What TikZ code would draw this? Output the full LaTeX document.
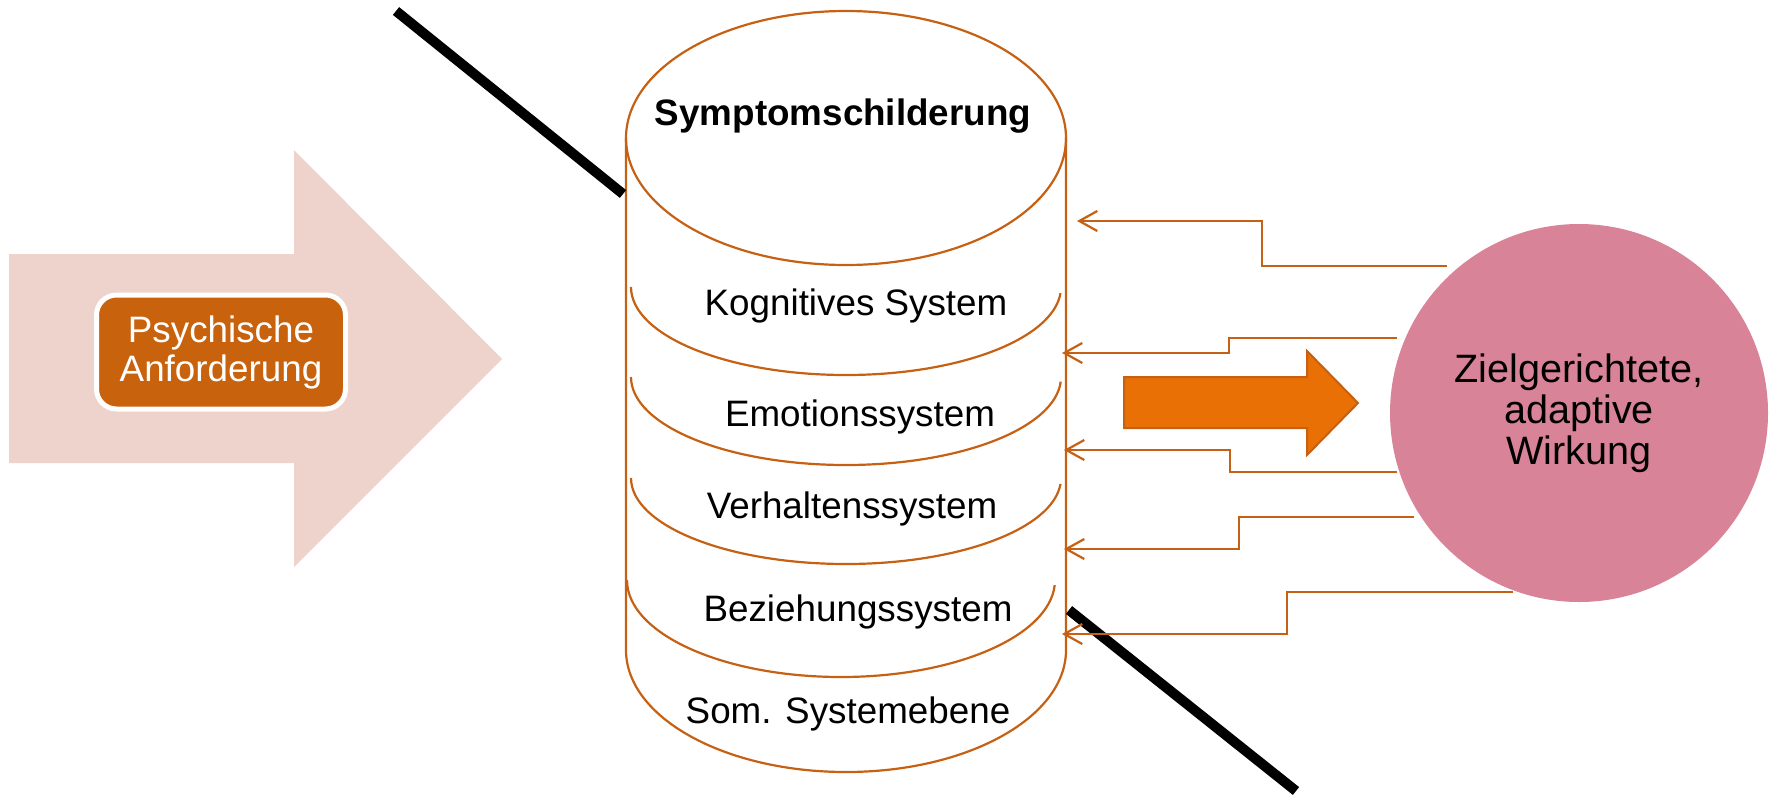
\documentclass[tikz,border=0pt]{standalone}
\usepackage{fontspec}
\setmainfont{Liberation Sans}
\usetikzlibrary{arrows.meta}
\definecolor{rimc}{RGB}{198,96,18}
\definecolor{pale}{RGB}{237,211,204}
\definecolor{boxc}{RGB}{200,98,12}
\definecolor{wirkc}{RGB}{216,131,152}
\definecolor{pushc}{RGB}{233,112,5}
\begin{document}
\begin{tikzpicture}[x=0.5pt,y=-0.5pt,
  rim/.style={draw=rimc, line width=1.1pt},
  layer/.style={anchor=base, font=\fontsize{18.4}{20}\selectfont},
  fb/.style={draw=rimc, line width=1.1pt, -{Straight Barb[length=9pt,width=10pt]}}]
\useasboundingbox (0,0) rectangle (1775,798);
% big arrow left
\fill[pale] (9,254)--(294,254)--(294,150)--(502,359)--(294,567)--(294,463)--(9,463)--cycle;
\node[draw=white, line width=2.5pt, fill=boxc, rounded corners=10pt, minimum width=124.5pt,
  minimum height=57pt, inner sep=0, text=white, align=center,
  font=\fontsize{18.4}{19.5}\selectfont] (anf) at (221,352) {Psychische\\Anforderung};
% cylinder
\draw[rim] (846,138) ellipse[x radius=220, y radius=127];
\draw[rim] (626,138) -- (626,650) arc[start angle=180, end angle=0, x radius=220, y radius=122] -- (1066,138);
\draw[rim] (631,287) arc[start angle=180, end angle=4, x radius=215, y radius=88];
\draw[rim] (631,377) arc[start angle=180, end angle=3, x radius=215, y radius=88];
\draw[rim] (631,478) arc[start angle=180, end angle=4, x radius=215, y radius=86];
\draw[rim] (627,580) arc[start angle=180, end angle=3, x radius=214, y radius=97];
\node[layer, font=\fontsize{18.4}{20}\selectfont\bfseries] (sym) at (843,125) {Symptomschilderung};
\node[layer] (kog) at (856,315) {Kognitives System};
\node[layer] (emo) at (860,426) {Emotionssystem};
\node[layer] (verh) at (852,518) {Verhaltenssystem};
\node[layer] (bez) at (858,621) {Beziehungssystem};
\node[layer] (som) at (848,723) {Som. Systemebene};
% black bars
\draw[line width=5pt] (396,11) -- (623,194);
\draw[line width=5pt] (1069,610) -- (1296,791);
% orange arrow
\draw[draw=rimc, line width=1pt, fill=pushc] (1124,377)--(1307,377)--(1307,351)--(1358,403)--(1307,455)--(1307,428)--(1124,428)--cycle;
% goal
\node[circle, fill=wirkc, minimum size=189pt, inner sep=0, align=center,
  font=\fontsize{19.8}{20.5}\selectfont] (wirk) at (1579,413) {Zielgerichtete,\\adaptive\\Wirkung};
% feedback
\coordinate (s1) at (1447,266); \coordinate (t1) at (1077,221);
\coordinate (s2) at (1397,338); \coordinate (t2) at (1062,353);
\coordinate (s3) at (1397,472); \coordinate (t3) at (1064,450);
\coordinate (s4) at (1414,517); \coordinate (t4) at (1064,549);
\coordinate (s5) at (1513,592); \coordinate (t5) at (1062,634);
\draw[fb] (s1) -- ++(-185,0) |- (t1);
\draw[fb] (s2) -- ++(-168,0) |- (t2);
\draw[fb] (s3) -- ++(-167,0) |- (t3);
\draw[fb] (s4) -- ++(-175,0) |- (t4);
\draw[fb] (s5) -- ++(-226,0) |- (t5);
\end{tikzpicture}
\end{document}
